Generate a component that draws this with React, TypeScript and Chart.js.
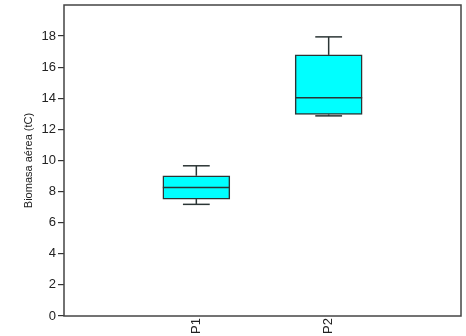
import React, { useEffect, useRef } from 'react';
import { Chart, registerables } from 'chart.js';

Chart.register(...registerables);

const categories = ['P1', 'P2'];
const whiskerMin = [7.18, 12.87];
const q1 = [7.52, 12.96];
const median = [8.27, 14.03];
const q3 = [9.02, 16.79];
const whiskerMax = [9.66, 17.95];
const yTicks = [0, 2, 4, 6, 8, 10, 12, 14, 16, 18];
const yMax = 20;
const yTitle = 'Biomasa aérea (tC)';

const FONT = "'Liberation Sans', Arial, sans-serif";

const boxPlugin = {
  id: 'boxExtras',
  afterDatasetsDraw(chart: any) {
    const { ctx, chartArea, scales } = chart;
    const y = scales.y;
    const meta = chart.getDatasetMeta(0);
    ctx.save();
    ctx.strokeStyle = '#2b3535';
    ctx.lineWidth = 1.5;
    categories.forEach((_, i) => {
      const el = meta.data[i + 1];
      if (!el) return;
      const x = el.x;
      const w = el.width;
      const cw = w * 0.4;
      const line = (x1: number, y1: number, x2: number, y2: number) => {
        ctx.beginPath();
        ctx.moveTo(x1, y1);
        ctx.lineTo(x2, y2);
        ctx.stroke();
      };
      // median
      line(x - w / 2, y.getPixelForValue(median[i]), x + w / 2, y.getPixelForValue(median[i]));
      // upper whisker
      line(x, y.getPixelForValue(q3[i]), x, y.getPixelForValue(whiskerMax[i]));
      line(x - cw / 2, y.getPixelForValue(whiskerMax[i]), x + cw / 2, y.getPixelForValue(whiskerMax[i]));
      // lower whisker
      line(x, y.getPixelForValue(q1[i]), x, y.getPixelForValue(whiskerMin[i]));
      line(x - cw / 2, y.getPixelForValue(whiskerMin[i]), x + cw / 2, y.getPixelForValue(whiskerMin[i]));
    });
    // frame
    ctx.strokeStyle = '#444';
    ctx.lineWidth = 1.5;
    ctx.strokeRect(chartArea.left, chartArea.top, chartArea.right - chartArea.left, chartArea.bottom - chartArea.top);
    // x labels, rotated (reading bottom to top)
    const xs = scales.x;
    ctx.fillStyle = '#222';
    ctx.font = `13px ${FONT}`;
    ctx.textAlign = 'right';
    ctx.textBaseline = 'middle';
    categories.forEach((c, i) => {
      const px = xs.getPixelForValue(i + 1);
      ctx.save();
      ctx.translate(px, chartArea.bottom + 2);
      ctx.rotate(-Math.PI / 2);
      ctx.fillText(c, 0, 0);
      ctx.restore();
    });
    ctx.restore();
  },
};

export default function App() {
  const ref = useRef<HTMLCanvasElement>(null);
  useEffect(() => {
    if (!ref.current) return;
    const labels = ['', ...categories, ''];
    const boxData = [null, ...categories.map((_, i) => [q1[i], q3[i]]), null];
    const chart = new Chart(ref.current, {
      type: 'bar',
      data: {
        labels,
        datasets: [
          {
            data: boxData as any,
            backgroundColor: '#00ffff',
            borderColor: '#2b3535',
            borderWidth: 1.5,
            borderSkipped: false,
            barThickness: 67,
          },
        ],
      },
      options: {
        responsive: false,
        animation: false,
        layout: { padding: { top: 5, right: 5, left: 0, bottom: 0 } },
        plugins: { legend: { display: false }, tooltip: { enabled: false } },
        scales: {
          x: {
            type: 'category',
            offset: false,
            grid: { display: false },
            border: { display: false },
            ticks: { display: false },
            afterFit(scale: any) {
              scale.height = 20;
              scale.paddingLeft = 0;
              scale.paddingRight = 0;
            },
          },
          y: {
            min: 0,
            max: yMax,
            afterBuildTicks(scale: any) {
              scale.ticks = yTicks.map((v) => ({ value: v }));
            },
            grid: {
              drawOnChartArea: false,
              drawTicks: true,
              tickLength: 6,
              color: '#333',
              lineWidth: 1.2,
            },
            border: { display: false },
            ticks: {
              color: '#222',
              padding: 2,
              font: { family: FONT, size: 13 },
            },
            title: {
              display: true,
              text: yTitle,
              color: '#222',
              font: { family: FONT, size: 11 },
              padding: { top: 22, bottom: 0 },
            },
            afterFit(scale: any) {
              scale.width = 64;
              scale.paddingTop = 0;
              scale.paddingBottom = 0;
            },
          },
        },
      },
      plugins: [boxPlugin],
    });
    return () => chart.destroy();
  }, []);
  return (
    <div style={{ position: 'fixed', left: 0, top: 0, width: 466, height: 336, background: '#fff' }}>
      <canvas ref={ref} width={466} height={336} style={{ display: 'block' }} />
    </div>
  );
}
